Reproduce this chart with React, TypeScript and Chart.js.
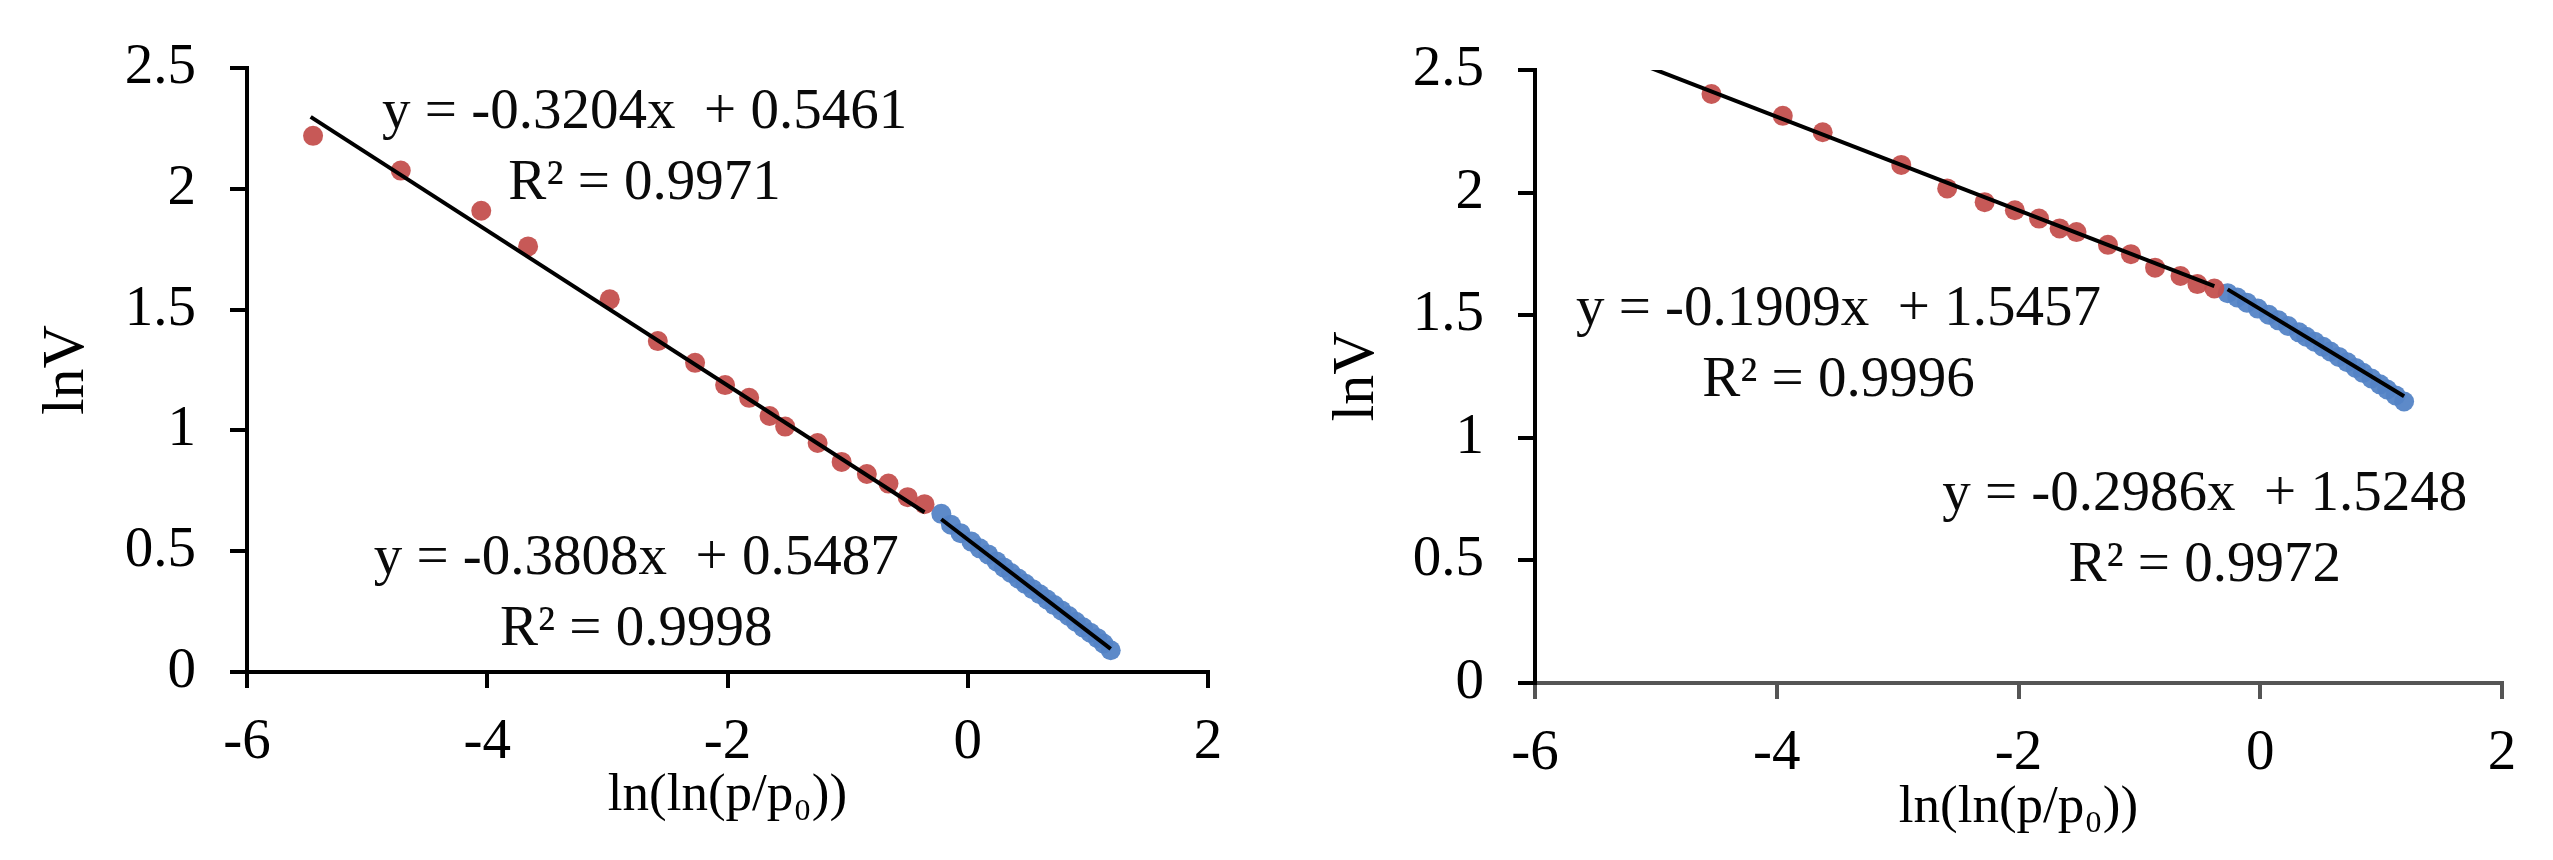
import { useEffect, useRef } from "react";
import { Chart, registerables } from "chart.js";

Chart.register(...registerables);

const FONT = "'Liberation Serif', 'Times New Roman', serif";

// ---------- Left panel ----------
const leftRedX = [-5.45, -4.72, -4.05, -3.66, -2.98, -2.58, -2.27, -2.02, -1.82, -1.65, -1.52, -1.25, -1.05, -0.84, -0.66, -0.5, -0.36];
const leftRedY = [2.22, 2.076, 1.91, 1.762, 1.543, 1.37, 1.28, 1.188, 1.135, 1.06, 1.016, 0.948, 0.87, 0.82, 0.78, 0.724, 0.695];
const leftBlueX = [-0.22, -0.14, -0.06, 0.03, 0.1, 0.17, 0.24, 0.3, 0.36, 0.42, 0.48, 0.54, 0.6, 0.66, 0.72, 0.78, 0.84, 0.9, 0.96, 1.02, 1.08, 1.13, 1.19];
const leftBlueY = [0.655, 0.61, 0.575, 0.54, 0.512, 0.487, 0.458, 0.433, 0.41, 0.387, 0.365, 0.343, 0.322, 0.3, 0.277, 0.255, 0.232, 0.208, 0.185, 0.163, 0.14, 0.118, 0.09];
const leftRedFit = [-0.3204, 0.5461]; // slope, intercept
const leftBlueFit = [-0.3808, 0.5487];
const leftRedTrendX = [-5.47, -0.36];
const leftBlueTrendX = [-0.22, 1.19];
const leftRedLabel = ["y = -0.3204x  + 0.5461", "R\u00B2 = 0.9971"];
const leftBlueLabel = ["y = -0.3808x  + 0.5487", "R\u00B2 = 0.9998"];
const leftRedLabelAt = [-2.69, 2.254]; // data coords of first-line baseline centre
const leftBlueLabelAt = [-2.76, 0.406];

// ---------- Right panel ----------
const rightRedX = [-4.54, -3.95, -3.62, -2.97, -2.59, -2.28, -2.03, -1.83, -1.66, -1.52, -1.26, -1.07, -0.87, -0.66, -0.52, -0.38];
const rightRedY = [2.402, 2.313, 2.246, 2.113, 2.017, 1.961, 1.928, 1.894, 1.854, 1.839, 1.787, 1.749, 1.694, 1.66, 1.627, 1.609];
const rightBlueX = [-0.27, -0.19, -0.11, -0.02, 0.07, 0.15, 0.23, 0.32, 0.38, 0.45, 0.52, 0.58, 0.65, 0.72, 0.79, 0.85, 0.92, 0.99, 1.05, 1.12, 1.19];
const rightBlueY = [1.59, 1.572, 1.551, 1.527, 1.502, 1.479, 1.456, 1.43, 1.412, 1.392, 1.371, 1.352, 1.33, 1.308, 1.285, 1.265, 1.242, 1.218, 1.197, 1.173, 1.148];
const rightRedFit = [-0.1909, 1.5457];
const rightBlueFit = [-0.2986, 1.5248];
const rightRedTrendX = [-5.08, -0.38];
const rightBlueTrendX = [-0.27, 1.19];
const rightRedLabel = ["y = -0.1909x  + 1.5457", "R\u00B2 = 0.9996"];
const rightBlueLabel = ["y = -0.2986x  + 1.5248", "R\u00B2 = 0.9972"];
const rightRedLabelAt = [-3.49, 1.46];
const rightBlueLabelAt = [-0.46, 0.706];

// ---------- Axes ----------
const xTickMin = -6;
const xTickMax = 2;
const xTickStep = 2;
const yTickMin = 0;
const yTickMax = 2.5;
const yTickStep = 0.5;
const xTitle = "ln(ln(p/p\u2080))";
const yTitle = "lnV";

const RED = "rgba(196, 80, 78, 0.95)";
const BLUE = "rgba(84, 132, 198, 0.95)";

const toPoints = (xs: number[], ys: number[]) => xs.map((x, i) => ({ x, y: ys[i] }));
const trend = (range: number[], fit: number[]) => range.map((x) => ({ x, y: fit[0] * x + fit[1] }));

type Note = { at: number[]; lines: string[] };

const labelsPlugin = (notes: Note[]) => ({
  id: "eqLabels",
  afterDatasetsDraw(chart: any) {
    const { ctx, scales } = chart;
    ctx.save();
    ctx.font = `57px ${FONT}`;
    ctx.fillStyle = "#0a0a0a";
    ctx.textAlign = "center";
    ctx.textBaseline = "alphabetic";
    for (const n of notes) {
      const cx = scales.x.getPixelForValue(n.at[0]);
      const by = scales.y.getPixelForValue(n.at[1]);
      n.lines.forEach((t, i) => ctx.fillText(t, cx, by + i * 71));
    }
    ctx.restore();
  },
});

type PanelCfg = {
  redX: number[]; redY: number[]; blueX: number[]; blueY: number[];
  redFit: number[]; blueFit: number[]; redTrendX: number[]; blueTrendX: number[];
  notes: Note[];
  padTop: number; padRight: number; yAxisWidth: number; xAxisHeight: number;
  xTitlePad: number; yTitlePad: number; xAxisColor: string;
};

function Panel({ cfg, left, width }: { cfg: PanelCfg; left: number; width: number }) {
  const ref = useRef<HTMLCanvasElement | null>(null);
  useEffect(() => {
    if (!ref.current) return;
    const chart = new Chart(ref.current, {
      type: "scatter",
      data: {
        datasets: [
          { data: trend(cfg.redTrendX, cfg.redFit), showLine: true, borderColor: "#000", borderWidth: 4, pointRadius: 0, order: 0 },
          { data: trend(cfg.blueTrendX, cfg.blueFit), showLine: true, borderColor: "#000", borderWidth: 4, pointRadius: 0, order: 0 },
          { data: toPoints(cfg.redX, cfg.redY), backgroundColor: RED, borderColor: RED, borderWidth: 0, pointRadius: 10, order: 1 },
          { data: toPoints(cfg.blueX, cfg.blueY), backgroundColor: BLUE, borderColor: BLUE, borderWidth: 0, pointRadius: 10, order: 1 },
        ],
      },
      options: {
        responsive: false,
        animation: false,
        events: [],
        layout: { padding: { left: 0, right: cfg.padRight, top: cfg.padTop, bottom: 0 } },
        plugins: { legend: { display: false }, tooltip: { enabled: false } },
        scales: {
          x: {
            type: "linear",
            position: "bottom",
            min: xTickMin,
            max: xTickMax,
            ticks: { stepSize: xTickStep, color: "#000", font: { family: FONT, size: 57 }, padding: 21, maxRotation: 0, autoSkip: false, callback: (v: any) => String(v) },
            grid: { drawOnChartArea: false, drawTicks: true, tickLength: 16, color: cfg.xAxisColor, tickColor: cfg.xAxisColor, lineWidth: 4, tickWidth: 4 },
            border: { display: true, color: cfg.xAxisColor, width: 4 },
            title: { display: true, text: xTitle, color: "#000", font: { family: FONT, size: 53 }, padding: { top: 0, bottom: cfg.xTitlePad } },
            afterFit: (s: any) => { s.height = cfg.xAxisHeight; },
          },
          y: {
            type: "linear",
            position: "left",
            min: yTickMin,
            max: yTickMax,
            ticks: { stepSize: yTickStep, color: "#000", font: { family: FONT, size: 57 }, padding: 34, callback: (v: any) => String(v) },
            grid: { drawOnChartArea: false, drawTicks: true, tickLength: 17, color: "#000", tickColor: "#000", lineWidth: 4, tickWidth: 4 },
            border: { display: true, color: "#000", width: 4 },
            title: { display: true, text: yTitle, color: "#000", font: { family: FONT, size: 60 }, padding: { top: cfg.yTitlePad, bottom: 0 } },
            afterFit: (s: any) => { s.width = cfg.yAxisWidth; },
          },
        },
      },
      plugins: [labelsPlugin(cfg.notes)],
    } as any);
    return () => chart.destroy();
  }, [cfg]);
  return (
    <canvas
      ref={ref}
      width={width}
      height={860}
      style={{ position: "absolute", left, top: 0, width, height: 860 }}
    />
  );
}

const leftCfg: PanelCfg = {
  redX: leftRedX, redY: leftRedY, blueX: leftBlueX, blueY: leftBlueY,
  redFit: leftRedFit, blueFit: leftBlueFit, redTrendX: leftRedTrendX, blueTrendX: leftBlueTrendX,
  notes: [{ at: leftRedLabelAt, lines: leftRedLabel }, { at: leftBlueLabelAt, lines: leftBlueLabel }],
  padTop: 63, padRight: 57, yAxisWidth: 247, xAxisHeight: 188, xTitlePad: 32, yTitlePad: 31, xAxisColor: "#000",
};

const rightCfg: PanelCfg = {
  redX: rightRedX, redY: rightRedY, blueX: rightBlueX, blueY: rightBlueY,
  redFit: rightRedFit, blueFit: rightBlueFit, redTrendX: rightRedTrendX, blueTrendX: rightBlueTrendX,
  notes: [{ at: rightRedLabelAt, lines: rightRedLabel }, { at: rightBlueLabelAt, lines: rightBlueLabel }],
  padTop: 70, padRight: 51, yAxisWidth: 265, xAxisHeight: 177, xTitlePad: 20, yTitlePad: 51, xAxisColor: "#555",
};

export default function App() {
  useEffect(() => {
    document.body.style.margin = "0";
    document.body.style.overflow = "hidden";
  }, []);
  return (
    <div style={{ position: "absolute", left: 0, top: 0, width: 2553, height: 860, background: "#fff", overflow: "hidden" }}>
      <Panel cfg={leftCfg} left={0} width={1265} />
      <Panel cfg={rightCfg} left={1270} width={1283} />
    </div>
  );
}
